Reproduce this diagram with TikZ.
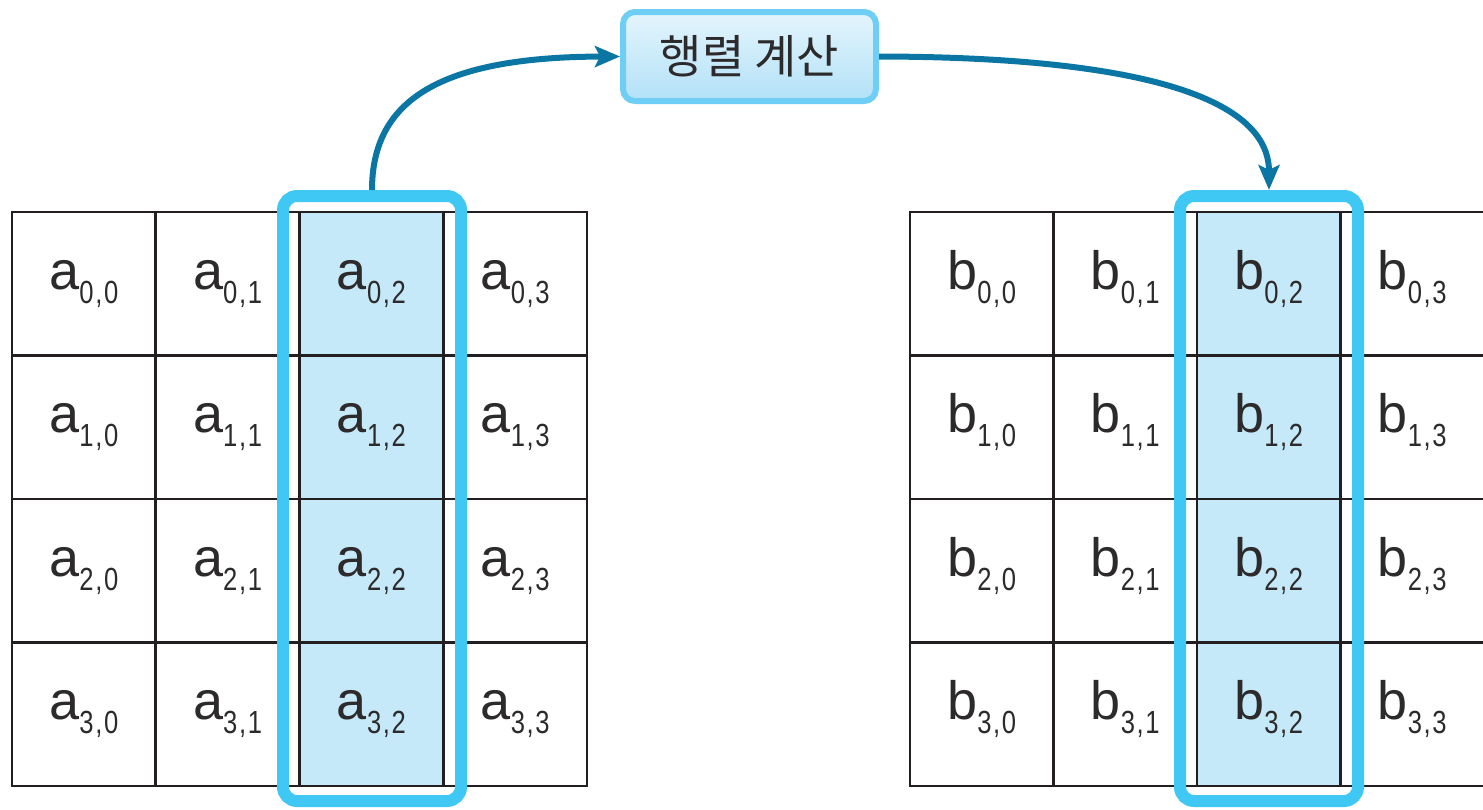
\documentclass[tikz,border=0pt]{standalone}
\usepackage{fontspec}
\usepackage{graphicx}
\setmainfont{Liberation Sans}
\newfontfamily\krfont{Noto Sans CJK KR}
\usetikzlibrary{arrows.meta}
\definecolor{gridline}{RGB}{35,31,32}
\definecolor{textc}{RGB}{45,42,43}
\definecolor{hlfill}{RGB}{197,233,248}
\definecolor{framec}{RGB}{64,200,244}
\definecolor{arrowc}{RGB}{11,118,163}
\definecolor{boxborder}{RGB}{110,206,245}
\definecolor{boxtop}{RGB}{228,245,253}
\definecolor{boxbot}{RGB}{178,225,247}
\newcommand{\cellsub}[3]{#1\raisebox{-14pt}{\scalebox{0.8}[1]{\fontsize{32}{32}\selectfont #2\kern2pt,\kern2pt#3}}}
\tikzset{
  cellbox/.style={draw=gridline, line width=2.8pt, inner sep=0pt, outer sep=0pt,
    minimum width=#1, minimum height=143.5pt, text height=30pt, text depth=19pt,
    text=textc, font=\fontsize{54}{60}\selectfont},
  hlframe/.style={draw=framec, line width=12pt, rounded corners=14pt, inner sep=0pt,
    outer sep=6pt, minimum width=178pt, minimum height=605pt},
  calcbox/.style={draw=boxborder, line width=6pt, rounded corners=12pt, top color=boxtop,
    bottom color=boxbot, minimum width=253pt, minimum height=89pt, inner sep=0pt,
    outer sep=3pt, text=textc, font=\krfont\fontsize{46}{50}\selectfont},
  conn/.style={draw=arrowc, line width=6pt, -{Stealth[length=25pt,width=21pt,inset=5pt]}}
}
\begin{document}
\begin{tikzpicture}[x=1pt,y=-1pt]
\useasboundingbox (0,0) rectangle (1483,809);
% left matrix
\foreach \r in {0,...,3}{
  \foreach \c/\f in {0/white,1/white,2/hlfill,3/white}{
    \node[cellbox=143.75pt, fill=\f] (a\r\c) at ({12+143.75*(\c+0.5)},{212+143.5*(\r+0.5)}) {\cellsub{a}{\r}{\c}};
  }
}
% right matrix
\foreach \r in {0,...,3}{
  \foreach \c/\f in {0/white,1/white,2/hlfill,3/white}{
    \node[cellbox=143.5pt, fill=\f] (b\r\c) at ({910+143.5*(\c+0.5)},{212+143.5*(\r+0.5)}) {\cellsub{b}{\r}{\c}};
  }
}
% highlight frames
\node[hlframe] (fa) at (372,498.5) {};
\node[hlframe] (fb) at (1269,498.5) {};
% calculation box
\node[calcbox] (calc) at (749.5,56.5) {행렬 계산};
% connectors
\draw[conn] (fa.north) .. controls (372,100) and (440,57) .. (calc.west);
\draw[conn] (calc.east) .. controls (1130,57) and (1269,95) .. (fb.north);
\end{tikzpicture}
\end{document}
